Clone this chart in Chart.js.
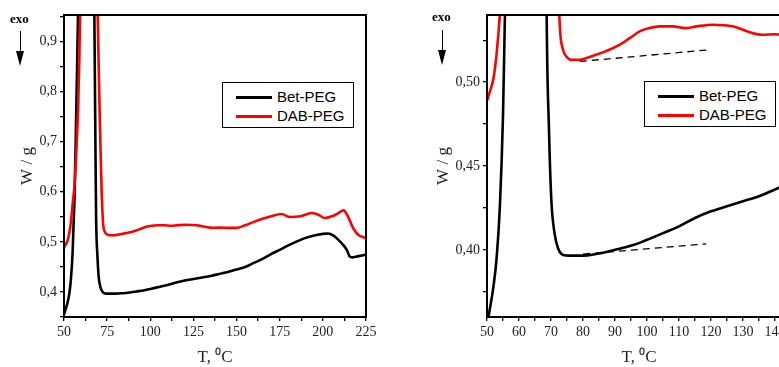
<!DOCTYPE html>
<html>
<head>
<meta charset="utf-8">
<script src="https://cdn.jsdelivr.net/npm/chart.js@4"></script>
<style>
  body { margin:0; width:779px; height:367px; overflow:hidden; position:relative; background:#fff; }
  .panel { position:absolute; top:0; height:367px; }
  .legend { position:absolute; box-sizing:border-box; width:132px; height:46px; border:1.5px solid #000; background:#fff;
            font:15px "Liberation Sans", Arial, sans-serif; color:#000; }
  .legend .row { position:absolute; left:0; height:18px; line-height:18px; white-space:nowrap; }
  .legend .swatch { position:absolute; left:13px; top:8px; width:36px; height:3px; }
  .legend .txt { position:absolute; left:54px; top:0; }
  .exo { position:absolute; font:bold 13px "Liberation Serif", "Times New Roman", serif; }
  .arrow { position:absolute; width:0; height:22px; border-left:1.5px solid #000; }
  .arrow:after { content:''; position:absolute; left:-5.5px; top:20px; border-left:4.5px solid transparent;
                 border-right:4.5px solid transparent; border-top:15px solid #000; }
</style>
</head>
<body>
<div class="panel" style="left:0;width:390px"><canvas id="chartFull"></canvas></div>
<div class="panel" style="left:390px;width:440px"><canvas id="chartZoom"></canvas></div>
<div class="legend" id="legFull" style="left:222px;top:82px"></div>
<div class="legend" id="legZoom" style="left:644px;top:81px"></div>
<div class="exo" style="left:10px;top:11px">exo</div>
<div class="arrow" style="left:20px;top:31px"></div>
<div class="exo" style="left:432px;top:9px">exo</div>
<div class="arrow" style="left:442px;top:30px"></div>
<script>
// Bet-PEG (black)
const betT = [50, 51, 52, 53, 54, 55, 55.5, 56.2, 57.2, 58.1, 59, 67, 67.6, 68.2, 68.6, 69.4, 70.1, 71.1, 72.2, 73.8, 75.8,
  80, 84, 88, 92, 96, 100, 105, 110, 115, 120, 125, 130, 135, 140, 145, 150, 155, 160, 165, 170, 175, 180, 185, 190,
  195, 200, 203, 206, 209, 212, 214, 215.5, 217, 220, 225];
const betW = [0.355, 0.366, 0.378, 0.395, 0.425, 0.48, 0.53, 0.60, 0.78, 0.95, 1.2, 1.2, 0.95, 0.7, 0.55, 0.47, 0.43, 0.41, 0.401, 0.397, 0.3966,
  0.3966, 0.3975, 0.399, 0.401, 0.403, 0.406, 0.410, 0.414, 0.419, 0.423, 0.426, 0.429, 0.432, 0.436, 0.440, 0.445, 0.450, 0.458, 0.466, 0.4755, 0.484, 0.493, 0.501, 0.508,
  0.5127, 0.516, 0.5166, 0.513, 0.504, 0.493, 0.483, 0.471, 0.469, 0.471, 0.4745];

// DAB-PEG (red)
const dabT = [50, 51, 52, 53, 54, 55, 56, 57, 58.3, 59.3, 60, 68, 69.5, 70.9, 71.9, 72.5, 72.9, 73.75, 74.8, 76.4, 79,
  81, 84, 87, 91.5, 94.6, 97.7, 100.8, 104, 108, 112, 115.5, 120.5, 127, 130, 133, 136, 140, 145, 150, 155, 160,
  165, 170, 176, 181, 187, 193.5, 197.5, 201, 206, 209, 212, 214.5, 217.5, 220.5, 225];
const dabW = [0.489, 0.495, 0.502, 0.517, 0.540, 0.575, 0.61, 0.67, 0.784, 0.953, 1.2, 1.2, 0.953, 0.72, 0.59, 0.545, 0.529, 0.5193, 0.5153, 0.5133, 0.5133,
  0.5143, 0.5163, 0.5183, 0.5223, 0.5262, 0.5302, 0.5322, 0.5332, 0.5332, 0.5322, 0.5332, 0.5342, 0.5332, 0.5312, 0.5292, 0.5282, 0.5285, 0.528, 0.528, 0.533, 0.540,
  0.546, 0.551, 0.5556, 0.5496, 0.551, 0.5576, 0.5543, 0.5476, 0.552, 0.5576, 0.5629, 0.551, 0.5277, 0.5144, 0.5077];

// baselines (dashed) in the zoomed panel
const baseBetT = [80, 118.5];
const baseBetW = [0.3975, 0.4036];
const baseDabT = [79, 119.6];
const baseDabW = [0.5123, 0.5193];

const seriesNames = ['Bet-PEG', 'DAB-PEG'];
const seriesColors = ['#000000', '#ff0000'];

const pts = (xs, ys) => xs.map((x, i) => ({ x: x, y: ys[i] }));
const serif = '"Liberation Serif", "Times New Roman", serif';

const frame = {
  id: 'frame',
  afterDatasetsDraw(chart) {
    const { ctx, chartArea: a } = chart;
    ctx.save();
    ctx.strokeStyle = '#000';
    ctx.lineWidth = 2;
    ctx.strokeRect(a.left, a.top, a.right - a.left, a.bottom - a.top);
    ctx.restore();
  }
};

const curve = (i, xs, ys) => ({
  label: seriesNames[i], data: pts(xs, ys), borderColor: seriesColors[i], borderWidth: 2.6,
  pointRadius: 0, cubicInterpolationMode: 'monotone', order: 1 - i
});
const dashed = (xs, ys, color) => ({
  label: '', data: pts(xs, ys), borderColor: color, borderWidth: 1.3, borderDash: [7, 5],
  pointRadius: 0, tension: 0, order: 0
});

const axisGrid = { drawOnChartArea: false, drawTicks: true, tickLength: 4, color: '#000', lineWidth: 1.3 };
const axisBorder = { color: '#000', width: 2 };

function labelEvery(step, digits) {
  return v => Math.abs(v / step - Math.round(v / step)) < 1e-6 ? v.toFixed(digits).replace('.', ',') : '';
}

function opts(cfg) {
  return {
    responsive: true,
    maintainAspectRatio: false,
    animation: false,
    layout: { padding: { top: 15, right: cfg.padRight, bottom: 0, left: 0 } },
    plugins: { legend: { display: false }, tooltip: { enabled: false } },
    scales: {
      x: {
        type: 'linear', min: cfg.xMin, max: cfg.xMax,
        grid: axisGrid, border: axisBorder,
        ticks: { stepSize: cfg.xStep, autoSkip: false, maxRotation: 0, includeBounds: false, padding: 3,
                 color: '#222', font: { family: serif, size: 14 }, callback: labelEvery(cfg.xStep * 2, 0) },
        title: { display: true, text: 'T, \u2070C', color: '#222', font: { family: serif, size: 17, lineHeight: 1.1 },
                 padding: { top: 0, bottom: 0 } },
        afterFit(s) { s.height = 50; }
      },
      y: {
        min: cfg.yMin, max: cfg.yMax,
        grid: axisGrid, border: axisBorder,
        ticks: { stepSize: cfg.yStep, autoSkip: false, includeBounds: false, padding: 3,
                 color: '#222', font: { family: serif, size: 14 }, callback: labelEvery(cfg.yStep * 2, cfg.yDigits) },
        title: { display: true, text: 'W / g', color: '#222', font: { family: serif, size: 17, lineHeight: 1.2 },
                 padding: { top: cfg.yTitlePad, bottom: 0 } },
        afterFit(s) { s.width = cfg.yWidth; }
      }
    }
  };
}

new Chart(document.getElementById('chartFull').getContext('2d'), {
  type: 'line',
  data: { datasets: [curve(0, betT, betW), curve(1, dabT, dabW)] },
  options: opts({ xMin: 50, xMax: 225, xStep: 12.5, yMin: 0.35, yMax: 0.953, yStep: 0.05, yDigits: 1,
                  yWidth: 64, yTitlePad: 17, padRight: 24 }),
  plugins: [frame]
});

new Chart(document.getElementById('chartZoom').getContext('2d'), {
  type: 'line',
  data: { datasets: [curve(0, betT, betW), curve(1, dabT, dabW),
                     dashed(baseBetT, baseBetW, '#000'), dashed(baseDabT, baseDabW, '#000')] },
  options: opts({ xMin: 50, xMax: 145, xStep: 5, yMin: 0.36, yMax: 0.54, yStep: 0.025, yDigits: 2,
                  yWidth: 97, yTitlePad: 43, padRight: 39 }),
  plugins: [frame]
});

// boxed legends inside the plots
['legFull', 'legZoom'].forEach(id => {
  const box = document.getElementById(id);
  seriesNames.forEach((name, i) => {
    const row = document.createElement('div');
    row.className = 'row';
    row.style.top = (5 + i * 19) + 'px';
    row.innerHTML = '<span class="swatch" style="background:' + seriesColors[i] + '"></span><span class="txt">' + name + '</span>';
    row.style.width = '130px';
    box.appendChild(row);
  });
});
</script>
</body>
</html>
